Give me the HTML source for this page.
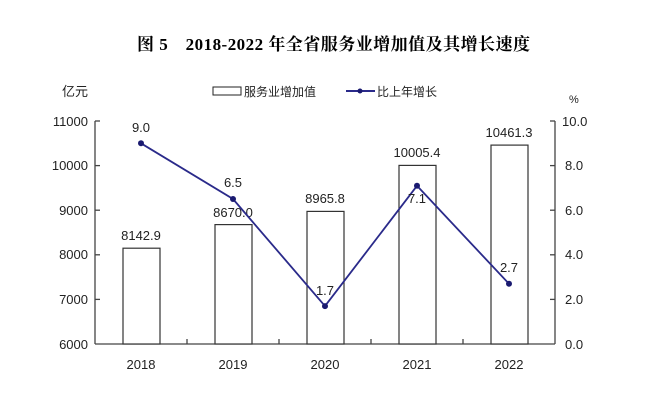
<!DOCTYPE html>
<html><head><meta charset="utf-8"><style>
html,body{margin:0;padding:0;background:#fff;width:664px;height:401px;overflow:hidden}
svg{display:block}
text{font-family:"Liberation Sans","Noto Sans CJK SC",sans-serif;fill:#222}
.t{font-family:"Liberation Serif","Noto Serif CJK SC",serif;font-weight:bold;font-size:17px;fill:#000}
</style></head><body>
<svg width="664" height="401" viewBox="0 0 664 401">
<text class="t" x="137" y="50" textLength="393" lengthAdjust="spacing">图 5　2018-2022 年全省服务业增加值及其增长速度</text>
<text x="62" y="96" font-size="13">亿元</text>
<rect x="213" y="87" width="28" height="8" fill="#fff" stroke="#222" stroke-width="1"/>
<text x="244" y="96" font-size="12" fill="#444">服务业增加值</text>
<line x1="346" y1="91" x2="375" y2="91" stroke="#2a2a8a" stroke-width="2"/>
<circle cx="360" cy="91" r="2.5" fill="#1a1a70"/>
<text x="377" y="96" font-size="12" fill="#444">比上年增长</text>
<text x="569" y="103" font-size="11" fill="#333">%</text>
<g stroke="#444" stroke-width="1.3" fill="none">
<line x1="95" y1="121" x2="95" y2="344"/>
<line x1="95" y1="344" x2="555" y2="344"/>
<line x1="555" y1="121" x2="555" y2="344"/>
<line x1="95" y1="121" x2="100" y2="121"/><line x1="95" y1="165.6" x2="100" y2="165.6"/><line x1="95" y1="210.2" x2="100" y2="210.2"/><line x1="95" y1="254.8" x2="100" y2="254.8"/><line x1="95" y1="299.4" x2="100" y2="299.4"/>
<line x1="550" y1="121" x2="555" y2="121"/><line x1="550" y1="165.6" x2="555" y2="165.6"/><line x1="550" y1="210.2" x2="555" y2="210.2"/><line x1="550" y1="254.8" x2="555" y2="254.8"/><line x1="550" y1="299.4" x2="555" y2="299.4"/>
<line x1="187" y1="339" x2="187" y2="344"/><line x1="279" y1="339" x2="279" y2="344"/><line x1="371" y1="339" x2="371" y2="344"/><line x1="463" y1="339" x2="463" y2="344"/>
</g>
<g font-size="13" text-anchor="end">
<text x="88" y="126">11000</text><text x="88" y="170">10000</text><text x="88" y="215">9000</text><text x="88" y="259">8000</text><text x="88" y="304">7000</text><text x="88" y="349">6000</text>
</g>
<g font-size="13">
<text x="562" y="126">10.0</text><text x="565" y="170">8.0</text><text x="565" y="215">6.0</text><text x="565" y="259">4.0</text><text x="565" y="304">2.0</text><text x="565" y="349">0.0</text>
</g>
<g font-size="13" text-anchor="middle">
<text x="141" y="369">2018</text><text x="233" y="369">2019</text><text x="325" y="369">2020</text><text x="417" y="369">2021</text><text x="509" y="369">2022</text>
</g>
<g fill="#fff" stroke="#333" stroke-width="1.2">
<rect x="123" y="248.2" width="37" height="95.8"/>
<rect x="215" y="224.6" width="37" height="119.4"/>
<rect x="307" y="211.4" width="37" height="132.6"/>
<rect x="399" y="165.4" width="37" height="178.6"/>
<rect x="491" y="145.1" width="37" height="198.9"/>
</g>
<g font-size="13" text-anchor="middle">
<text x="141" y="240">8142.9</text><text x="233" y="217">8670.0</text><text x="325" y="203">8965.8</text><text x="417" y="157">10005.4</text><text x="509" y="137">10461.3</text>
</g>
<polyline points="141,143.3 233,199 325,306.1 417,185.8 509,283.8" fill="none" stroke="#2a2a8a" stroke-width="1.8"/>
<g fill="#1a1a70">
<circle cx="141" cy="143.3" r="3"/><circle cx="233" cy="199" r="3"/><circle cx="325" cy="306.1" r="3"/><circle cx="417" cy="185.8" r="3"/><circle cx="509" cy="283.8" r="3"/>
</g>
<g font-size="13" text-anchor="middle">
<text x="141" y="132">9.0</text><text x="233" y="187">6.5</text><text x="325" y="295">1.7</text><text x="417" y="203">7.1</text><text x="509" y="272">2.7</text>
</g>
</svg>
</body></html>
